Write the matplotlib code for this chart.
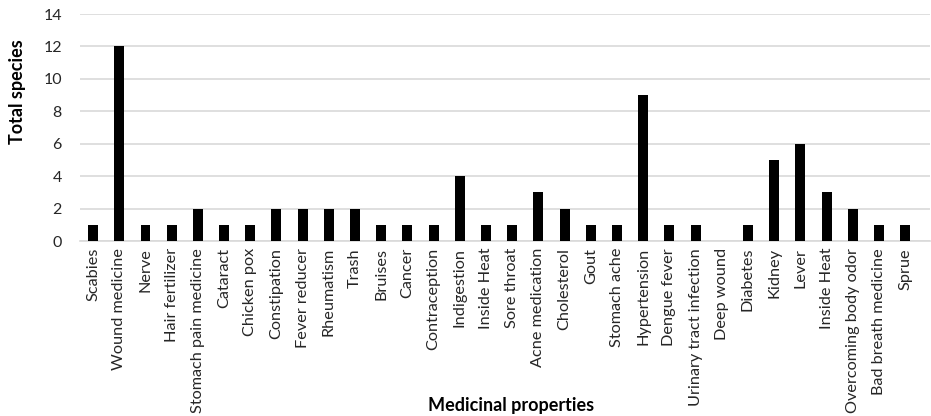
import numpy as np
from matplotlib import pyplot as plt

plt.rcParams['font.family'] = ['Lato', 'DejaVu Sans']

properties = ["Scabies", "Wound medicine", "Nerve", "Hair fertilizer",
              "Stomach pain medicine", "Cataract", "Chicken pox", "Constipation",
              "Fever reducer", "Rheumatism", "Trash", "Bruises", "Cancer",
              "Contraception", "Indigestion", "Inside Heat", "Sore throat",
              "Acne medication", "Cholesterol", "Gout", "Stomach ache",
              "Hypertension", "Dengue fever", "Urinary tract infection",
              "Deep wound", "Diabetes", "Kidney", "Lever", "Inside Heat",
              "Overcoming body odor", "Bad breath medicine", "Sprue"]
species = [1, 12, 1, 1, 2, 1, 1, 2, 2, 2, 2, 1, 1, 1, 4, 1, 1, 3, 2, 1, 1,
           9, 1, 1, 0, 1, 5, 6, 3, 2, 1, 1]

fig = plt.figure(figsize=(9.31, 4.16), dpi=100)
ax = fig.add_axes([80 / 931, 1 - 241 / 416, 850 / 931, 227 / 416])

x = np.arange(len(properties))
ax.bar(x, species, width=0.38, color="black", zorder=3)

ax.set_ylim(0, 14)
ax.set_yticks(np.arange(0, 15, 2))
ax.set_xlim(-0.5, 31.95)
ax.set_xticks(x)
ax.set_xticklabels(properties, rotation=90, fontsize=11.7)
ax.tick_params(axis="y", labelsize=11.5, length=0, pad=13, colors="#262626")
ax.tick_params(axis="x", length=0, pad=5, colors="#262626")
ax.yaxis.grid(True, color="#d9d9d9", linewidth=1.2, zorder=0)

for side in ["top", "right", "left"]:
    ax.spines[side].set_visible(False)
ax.spines["bottom"].set_color("#d9d9d9")
ax.spines["bottom"].set_linewidth(1.2)

fig.text(18 / 931, 1 - 92 / 416, "Total species", fontsize=13, fontweight="bold",
         rotation=90, ha="center", va="center")
fig.text(511 / 931, 1 - 405 / 416, "Medicinal properties", fontsize=13,
         fontweight="bold", ha="center", va="center")

fig.savefig("out.png", dpi=100)
